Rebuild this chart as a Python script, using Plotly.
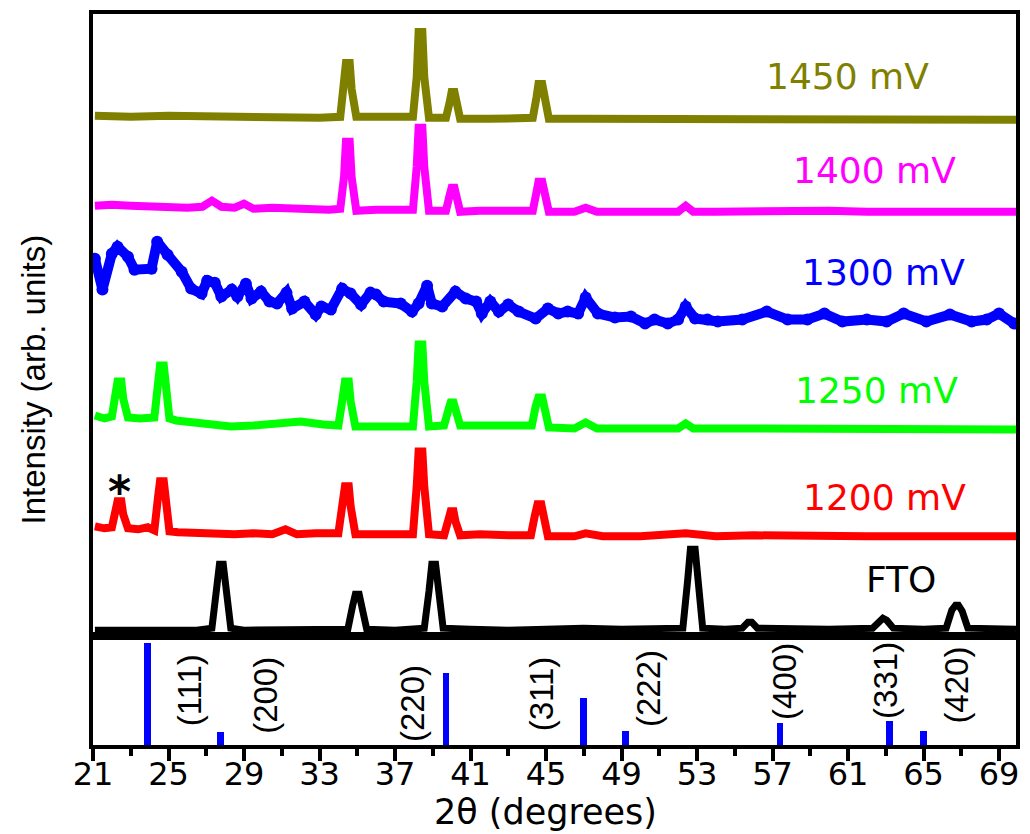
import plotly.graph_objects as go

# ---------------- data ----------------
# 2theta (degrees) and stacked intensity (arb. units) for each pattern
tt_1450 = [21.1, 23, 25, 27, 29, 31, 33, 34.1, 34.3, 34.4, 34.6, 34.7, 34.95, 36, 37.5, 37.95, 38.15, 38.25,
           38.45, 38.55, 38.8, 39.7, 39.9, 40.0, 40.15, 40.25, 40.45, 42, 44.3, 44.5, 44.6, 44.8, 44.9, 45.15,
           47, 50, 53, 56, 59, 62, 65, 68, 69.9]
i_1450 = [521, 520, 521, 520, 520, 519, 519, 520, 548, 574, 574, 548, 520, 520, 519, 520, 560, 605,
          605, 560, 519, 519, 535, 545, 545, 532, 518, 518, 519, 540, 553, 553, 540, 518,
          518, 518, 517, 518, 517, 518, 517, 517, 517]

tt_1400 = [21.1, 22, 23, 24, 25, 26, 26.8, 27.3, 27.8, 28.5, 29.0, 29.5, 30.5, 31.5, 32.5, 33.5, 34.1, 34.3,
           34.4, 34.6, 34.7, 34.95, 36, 37, 37.95, 38.15, 38.25, 38.45, 38.55, 38.8, 39.7, 39.9, 40.0, 40.15,
           40.25, 40.45, 41.5, 43, 44.3, 44.5, 44.6, 44.8, 44.9, 45.15, 46.5, 47.1, 47.7, 49, 51, 52.0, 52.4,
           52.8, 54, 56, 58, 60, 62, 64, 66, 68, 69.9]
i_1400 = [431, 432, 431, 430, 431, 429, 430, 436, 430, 429, 433, 428, 429, 428, 428, 427, 428, 460,
          495, 495, 460, 426, 427, 426, 427, 470, 509, 509, 470, 426, 426, 442, 449, 449,
          438, 425, 426, 425, 426, 445, 455, 455, 445, 425, 425, 429, 425, 425, 425, 425, 431,
          425, 425, 426, 425, 426, 425, 426, 425, 425, 425]

tt_1300 = [21.1, 21.5, 22.0, 22.3, 22.85, 23.2, 24.1, 24.4, 24.95, 25.7, 26.2, 26.75, 27.05, 27.45, 27.8,
           28.35, 28.65, 29.1, 29.4, 29.9, 30.35, 30.75, 31.25, 31.55, 32.2, 32.8, 33.1, 33.6, 34.2, 34.65,
           35.2, 35.7, 36.0, 36.4, 37.3, 37.9, 38.25, 38.7, 38.95, 39.5, 40.2, 40.75, 41.3, 41.6, 42.05,
           42.5, 43.0, 43.55, 44.45, 45.1, 45.65, 46.15, 46.7, 47.1, 47.75, 48.65, 49.5, 50.25, 50.75,
           51.45, 52.0, 52.4, 52.9, 53.55, 54.1, 55.4, 56.7, 57.8, 58.85, 59.75, 60.7, 62.0, 63.05, 63.95,
           65.15, 66.4, 67.55, 68.35, 69.0, 69.8]
i_1300 = [378, 347, 383, 390, 380, 367, 368, 395, 382, 365, 348, 343, 356, 354, 340,
          347, 340, 353, 338, 345, 335, 333, 344, 328, 335, 322, 330, 327, 348, 343,
          332, 344, 342, 335, 333, 325, 333, 351, 333, 330, 345, 338, 335, 323, 335,
          325, 332, 325, 318, 328, 323, 325, 323, 339, 323, 319, 320, 313, 317,
          313, 317, 330, 318, 317, 315, 317, 325, 317, 317, 323, 315, 317, 315, 323,
          315, 322, 315, 317, 323, 313]

tt_1250 = [21.1, 21.6, 22.0, 22.2, 22.3, 22.5, 22.6, 22.85, 23.5, 24.25, 24.45, 24.55, 24.75, 24.85, 25.05,
           25.4, 26, 27, 28.3, 29.5, 30.5, 32, 33.2, 34.0, 34.2, 34.35, 34.55, 34.65, 34.9, 36, 37.2, 37.95,
           38.15, 38.25, 38.45, 38.55, 38.8, 39.6, 39.85, 39.95, 40.1, 40.2, 40.45, 41.5, 43, 44.25, 44.45,
           44.6, 44.8, 44.9, 45.15, 46.5, 47.1, 47.7, 49, 51, 52.0, 52.4, 52.8, 54, 56, 58, 60, 62, 64, 66,
           68, 69.9]
i_1250 = [221, 218, 220, 238, 255, 255, 238, 219, 218, 219, 250, 271, 271, 250, 218,
          216, 215, 213, 210, 211, 212, 215, 212, 211, 235, 255, 255, 235, 210, 210, 211, 210,
          255, 292, 292, 255, 210, 211, 228, 234, 234, 225, 211, 211, 210, 211, 230,
          239, 239, 228, 209, 208, 214, 208, 208, 209, 208, 213, 208, 208, 208, 208, 208, 208, 208, 208,
          207, 207]

tt_1200 = [21.1, 21.6, 22.0, 22.2, 22.3, 22.5, 22.6, 22.85, 23.4, 23.9, 24.25, 24.45, 24.55, 24.75, 24.85,
           25.05, 25.5, 26.5, 27.5, 28.5, 29.5, 30.5, 31.2, 31.8, 32.8, 33.5, 34.0, 34.2, 34.35, 34.55, 34.65,
           34.9, 36, 37.2, 37.95, 38.15, 38.25, 38.45, 38.55, 38.8, 39.6, 39.85, 39.95, 40.1, 40.2, 40.45,
           41.5, 43, 44.2, 44.4, 44.55, 44.75, 44.85, 45.1, 46.5, 47.1, 48, 50, 52.4, 54, 56, 58, 60, 62,
           64, 66, 68, 69.9]
i_1200 = [110, 108, 109, 122, 135, 135, 122, 108, 107, 109, 106, 140, 155, 155, 140,
          105, 104, 103, 104, 102, 103, 102, 107, 102, 103, 102, 103, 130, 150, 150, 130,
          102, 102, 103, 102, 150, 185, 185, 150, 102, 101, 118, 125, 125, 115, 101,
          102, 101, 101, 120, 132, 132, 120, 100, 100, 103, 100, 100, 103, 100, 101, 100, 100, 100,
          100, 100, 100, 100]

tt_fto = [21.1, 23, 25, 26.5, 27.3, 27.55, 27.7, 27.9, 28.05, 28.3, 29, 31, 33, 34.5, 34.75, 34.9, 35.1,
          35.25, 35.5, 37, 38.55, 38.8, 38.95, 39.15, 39.3, 39.55, 41, 43, 45, 47, 49, 51, 52.25, 52.5,
          52.65, 52.9, 53.05, 53.3, 54.5, 55.4, 55.7, 55.9, 56.2, 58, 60, 62.3, 62.65, 62.85, 63.05, 63.4,
          65, 66.2, 66.5, 66.7, 66.85, 67.05, 67.35, 68.5, 69.9]
i_fto = [6, 6, 7, 6, 8, 45, 72, 72, 45, 8, 6, 6, 7, 7, 30, 42, 42,
         30, 7, 6, 8, 45, 72, 72, 45, 8, 7, 6, 7, 8, 7, 7, 8, 55,
         87, 87, 55, 8, 7, 8, 14, 14, 8, 7, 7, 8, 16, 18, 16, 8,
         7, 8, 26, 31, 31, 25, 8, 7, 7]

series_names = ["1450 mV", "1400 mV", "1300 mV", "1250 mV", "1200 mV", "FTO"]

# reference pattern (sticks)
ref_pos = [23.9, 27.75, 39.7, 47.0, 49.2, 57.4, 63.2, 65.0]
ref_int = [102, 13, 72, 47, 14, 22, 24, 14]
hkl = ["(111)", "(200)", "(220)", "(311)", "(222)", "(400)", "(331)", "(420)"]

# ---------------- styling / layout ----------------
colors = ["#808000", "#FF00FF", "#0000FF", "#00FF00", "#FF0000", "#000000"]
widths = [8, 8, 10, 8, 8, 7]
xs_all = [tt_1450, tt_1400, tt_1300, tt_1250, tt_1200, tt_fto]
ys_all = [i_1450, i_1400, i_1300, i_1250, i_1200, i_fto]

label_pos = [(60.95, 560), (62.4, 466), (62.9, 364), (62.5, 246), (62.95, 139), (63.8, 57)]
hkl_pos = [(26.1, 55), (30.1, 50), (37.9, 42), (44.75, 51), (50.4, 57), (57.6, 64), (62.95, 65), (66.75, 60)]

wide_font = "DejaVu Sans, Liberation Sans, Arial"
narrow_font = "Liberation Sans, Arial"

fig = go.Figure()
for xs, ys, c, w, nm in zip(xs_all, ys_all, colors, widths, series_names):
    mode = "lines+markers" if nm == "1300 mV" else "lines"
    fig.add_trace(go.Scatter(x=xs, y=ys, mode=mode, name=nm,
                             line=dict(color=c, width=w),
                             marker=dict(color=c, size=12),
                             xaxis="x", yaxis="y", showlegend=False, hoverinfo="skip"))

fig.add_trace(go.Bar(x=ref_pos, y=ref_int, width=0.36, marker=dict(color="#0000FF", line_width=0),
                     xaxis="x2", yaxis="y2", showlegend=False, hoverinfo="skip"))

annotations = []
for nm, c, (ax, ay) in zip(series_names, colors, label_pos):
    annotations.append(dict(x=ax, y=ay, xref="x", yref="y", text=nm, showarrow=False,
                            font=dict(family=wide_font, size=36, color=c),
                            xanchor="center", yanchor="middle"))
for t, (ax, ay) in zip(hkl, hkl_pos):
    annotations.append(dict(x=ax, y=ay, xref="x2", yref="y2", text=t, showarrow=False, textangle=-90,
                            font=dict(family=narrow_font, size=33, color="#000000"),
                            xanchor="center", yanchor="middle"))
annotations.append(dict(x=22.4, y=145, xref="x", yref="y", text="<b>*</b>", showarrow=False,
                        font=dict(family=wide_font, size=44, color="#000000"),
                        xanchor="center", yanchor="middle"))
annotations.append(dict(x=0.49, y=0.0, xref="paper", yref="paper", yshift=-67, text="2θ (degrees)",
                        showarrow=False, font=dict(family=wide_font, size=35, color="#000000"),
                        xanchor="center", yanchor="middle"))
annotations.append(dict(x=0, y=0.5, xref="paper", yref="paper", xshift=-60, text="Intensity (arb. units)",
                        showarrow=False, textangle=-90,
                        font=dict(family=narrow_font, size=33, color="#000000"),
                        xanchor="center", yanchor="middle"))

split = 109 / 732
axis_common = dict(showline=True, mirror=True, linecolor="black", linewidth=4,
                   showgrid=False, zeroline=False)

fig.update_layout(
    width=1030, height=834,
    margin=dict(l=93, r=10, t=13, b=89),
    paper_bgcolor="white", plot_bgcolor="white",
    showlegend=False,
    bargap=0,
    xaxis=dict(domain=[0, 1], anchor="y", range=[21, 69.9], showticklabels=False, ticks="", **axis_common),
    yaxis=dict(domain=[split, 1], anchor="x", range=[0, 623], showticklabels=False, ticks="", **axis_common),
    xaxis2=dict(domain=[0, 1], anchor="y2", range=[21, 69.9], tick0=21, dtick=4,
                ticks="outside", ticklen=12, tickwidth=4, tickcolor="black", ticklabelstandoff=-14,
                tickfont=dict(family=wide_font, size=32, color="black"),
                minor=dict(dtick=2, tick0=21, ticks="outside", ticklen=7, tickwidth=4, tickcolor="black"),
                **axis_common),
    yaxis2=dict(domain=[0, split], anchor="x2", range=[0, 109], showticklabels=False, ticks="", **axis_common),
    annotations=annotations,
)

fig.write_html("out.html")
